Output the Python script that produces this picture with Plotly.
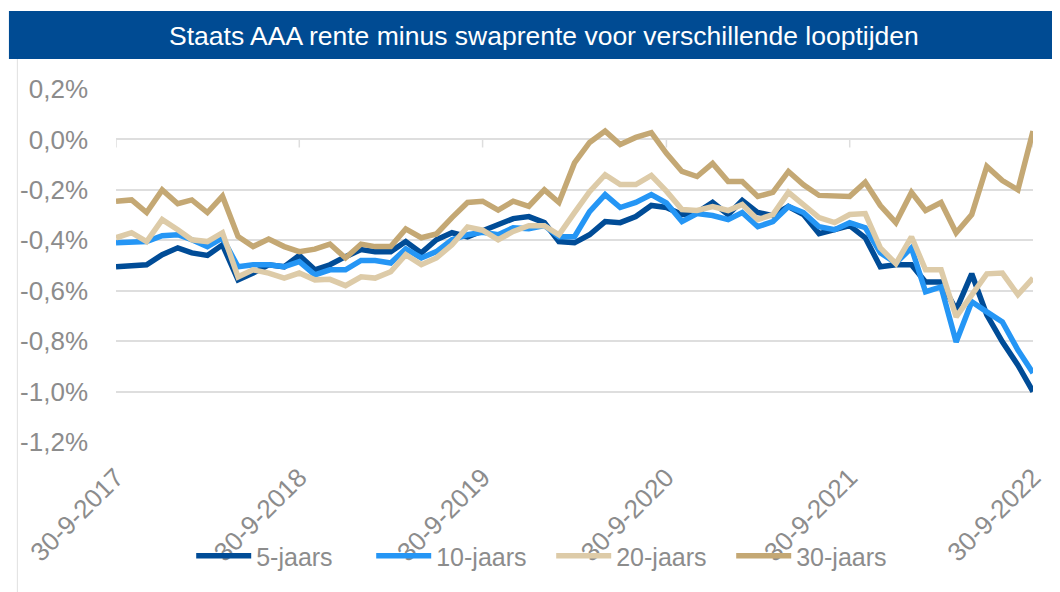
import pandas as pd
import plotly.graph_objects as go

# ---- data (in %) ----
dates = pd.date_range("2017-09-30", periods=61, freq=pd.offsets.MonthEnd())

jaars5 = [-0.505, -0.50, -0.497, -0.457, -0.43, -0.45, -0.46, -0.418, -0.557, -0.53,
          -0.497, -0.505, -0.46, -0.517, -0.497, -0.465, -0.437, -0.445, -0.445, -0.405,
          -0.45, -0.398, -0.37, -0.386, -0.362, -0.334, -0.314, -0.306, -0.33, -0.405,
          -0.41, -0.378, -0.326, -0.33, -0.306, -0.262, -0.27, -0.298, -0.29, -0.25,
          -0.298, -0.242, -0.29, -0.302, -0.266, -0.298, -0.374, -0.358, -0.342, -0.39,
          -0.505, -0.497, -0.497, -0.565, -0.565, -0.676, -0.533, -0.696, -0.803, -0.895,
          -1.0]

jaars10 = [-0.41, -0.41, -0.405, -0.382, -0.378, -0.398, -0.425, -0.39, -0.505, -0.497,
           -0.497, -0.505, -0.485, -0.537, -0.517, -0.517, -0.48, -0.48, -0.49, -0.434,
           -0.47, -0.445, -0.398, -0.378, -0.368, -0.378, -0.35, -0.354, -0.342, -0.386,
           -0.386, -0.286, -0.219, -0.27, -0.25, -0.219, -0.252, -0.326, -0.294, -0.302,
           -0.318, -0.29, -0.346, -0.326, -0.266, -0.29, -0.346, -0.358, -0.33, -0.35,
           -0.45, -0.49, -0.43, -0.604, -0.585, -0.803, -0.644, -0.684, -0.724, -0.835,
           -0.926]

jaars20 = [-0.39, -0.37, -0.405, -0.318, -0.358, -0.398, -0.405, -0.37, -0.545, -0.517,
           -0.53, -0.55, -0.53, -0.557, -0.555, -0.58, -0.545, -0.55, -0.525, -0.457,
           -0.497, -0.47, -0.418, -0.347, -0.36, -0.398, -0.365, -0.342, -0.342, -0.378,
           -0.29, -0.207, -0.14, -0.179, -0.179, -0.143, -0.205, -0.278, -0.282, -0.266,
           -0.282, -0.258, -0.318, -0.298, -0.21, -0.258, -0.31, -0.33, -0.298, -0.294,
           -0.43, -0.493, -0.386, -0.517, -0.517, -0.704, -0.616, -0.533, -0.53, -0.616,
           -0.55]

jaars30 = [-0.245, -0.24, -0.29, -0.20, -0.255, -0.24, -0.29, -0.225, -0.385, -0.425,
           -0.395, -0.425, -0.445, -0.435, -0.415, -0.47, -0.415, -0.425, -0.425, -0.355,
           -0.39, -0.375, -0.31, -0.25, -0.245, -0.28, -0.245, -0.265, -0.20, -0.25,
           -0.093, -0.012, 0.033, -0.02, 0.008, 0.027, -0.055, -0.127, -0.147, -0.095,
           -0.167, -0.167, -0.226, -0.21, -0.127, -0.18, -0.222, -0.226, -0.226, -0.17,
           -0.262, -0.33, -0.21, -0.282, -0.25, -0.37, -0.298, -0.107, -0.163, -0.20,
           0.033]

series_names = ["5-jaars", "10-jaars", "20-jaars", "30-jaars"]
series_values = [jaars5, jaars10, jaars20, jaars30]
series_colors = ["#004C97", "#2596F5", "#DDCBA8", "#C4A874"]

x_tickvals = pd.to_datetime(["2017-09-30", "2018-09-30", "2019-09-30",
                             "2020-09-30", "2021-09-30", "2022-09-30"])
x_ticktext = ["30-9-2017", "30-9-2018", "30-9-2019", "30-9-2020", "30-9-2021", "30-9-2022"]
y_tickvals = [0.2, 0.0, -0.2, -0.4, -0.6, -0.8, -1.0, -1.2]
y_ticktext = ["0,2%", "0,0%", "-0,2%", "-0,4%", "-0,6%", "-0,8%", "-1,0%", "-1,2%"]

title_text = "Staats AAA rente minus swaprente voor verschillende looptijden"

FONT = "Liberation Sans, Arial, sans-serif"
GRAY = "#8c8c8c"
GRID = "#dedede"

# page is offset by the 8px body margin
OFF = 8
W, H = 1060 - OFF, 592 - OFF
L, R, T, B = 108 - OFF, (1060 - OFF) - (1033 - OFF), 89 - OFF, (592 - OFF) - (442 - OFF)
PW, PH = W - L - R, H - T - B


def px_x(p):
    return (p - OFF - L) / PW


def px_y(p):
    return (H - B - (p - OFF)) / PH


fig = go.Figure()
for name, vals, col in zip(series_names, series_values, series_colors):
    fig.add_trace(go.Scatter(x=dates, y=vals, name=name, mode="lines",
                             line=dict(color=col, width=5.5)))

# tick marks on the zero line
shapes = []
for tv in x_tickvals:
    shapes.append(dict(type="line", xref="x", yref="y", x0=tv, x1=tv, y0=0, y1=-0.032,
                       line=dict(color=GRID, width=1.5), layer="below"))
# title bar
shapes.append(dict(type="rect", xref="paper", yref="paper",
                   x0=px_x(0), x1=px_x(1070),
                   y0=px_y(59), y1=px_y(11),
                   fillcolor="#004B93", line=dict(width=0)))
# left frame line
shapes.append(dict(type="line", xref="paper", yref="paper",
                   x0=px_x(8.5), x1=px_x(8.5),
                   y0=px_y(600), y1=px_y(59),
                   line=dict(color="#e0e0e0", width=1)))

fig.update_layout(
    width=W, height=H,
    margin=dict(l=L, r=R, t=T, b=B),
    paper_bgcolor="white", plot_bgcolor="white",
    font=dict(family=FONT, color=GRAY, size=25),
    shapes=shapes,
    annotations=[dict(text=title_text, xref="paper", yref="paper",
                      x=px_x(540), y=px_y(36),
                      xanchor="center", yanchor="middle", showarrow=False,
                      font=dict(family=FONT, size=26.5, color="white"))],
    legend=dict(orientation="h", x=px_x(547), xanchor="center",
                y=px_y(556), yanchor="middle",
                bgcolor="rgba(0,0,0,0)", itemwidth=55,
                entrywidth=110, entrywidthmode="pixels",
                font=dict(family=FONT, size=25, color=GRAY)),
    showlegend=True,
)
fig.update_xaxes(range=[dates[0], dates[-1]], tickvals=x_tickvals, ticktext=x_ticktext,
                 tickangle=-45, showgrid=False, zeroline=False, showline=False,
                 ticks="", ticklabelstandoff=14,
                 tickfont=dict(family=FONT, size=26, color=GRAY))
fig.update_yaxes(range=[-1.2, 0.2], tickvals=y_tickvals, ticktext=y_ticktext,
                 showgrid=True, gridcolor=GRID, gridwidth=1.5, zeroline=False,
                 showline=False, ticks="", ticklabelstandoff=27,
                 tickfont=dict(family=FONT, size=26, color=GRAY))

fig.write_html("out.html")
